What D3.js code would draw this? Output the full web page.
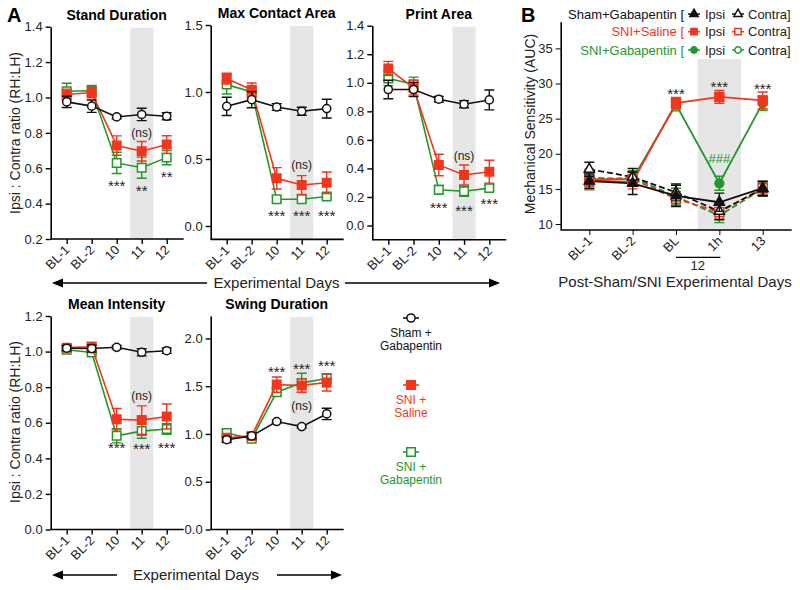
<!DOCTYPE html>
<html><head><meta charset="utf-8">
<script src="https://cdn.jsdelivr.net/npm/d3@7"></script>
<style>
body{margin:0;background:#fff;}
svg{font-family:"Liberation Sans",Arial,sans-serif;}
</style></head><body><div id="chart"></div>
<script>
const daysA = ["BL-1", "BL-2", "10", "11", "12"];
const daysB = ["BL-1", "BL-2", "BL", "1h", "13"];

// Stand Duration
const standSham = [0.975, 0.951, 0.89, 0.904, 0.894], standShamSE = [0.032, 0.035, 0.01, 0.035, 0.02];
const standSaline = [1.017, 1.028, 0.728, 0.696, 0.734], standSalineSE = [0.03, 0.03, 0.055, 0.055, 0.05];
const standGaba = [1.035, 1.038, 0.63, 0.603, 0.66], standGabaSE = [0.045, 0.03, 0.06, 0.06, 0.04];
// Max Contact Area
const maxSham = [0.893, 0.943, 0.888, 0.856, 0.876], maxShamSE = [0.068, 0.06, 0.025, 0.03, 0.07];
const maxSaline = [1.1, 1.017, 0.356, 0.306, 0.323], maxSalineSE = [0.04, 0.05, 0.08, 0.07, 0.08];
const maxGaba = [1.055, 1.0, 0.2, 0.2, 0.22], maxGabaSE = [0.07, 0.04, 0.02, 0.02, 0.02];
// Print Area
const printSham = [0.953, 0.953, 0.885, 0.85, 0.88], printShamSE = [0.065, 0.05, 0.02, 0.025, 0.07];
const printSaline = [1.1, 0.965, 0.424, 0.354, 0.377], printSalineSE = [0.05, 0.05, 0.075, 0.07, 0.08];
const printGaba = [1.03, 0.99, 0.25, 0.24, 0.262], printGabaSE = [0.05, 0.05, 0.03, 0.035, 0.02];
// Mean Intensity
const meanSham = [1.019, 1.017, 1.024, 0.996, 1.005], meanShamSE = [0.015, 0.02, 0.01, 0.02, 0.015];
const meanSaline = [1.022, 1.027, 0.62, 0.615, 0.635], meanSalineSE = [0.01, 0.025, 0.06, 0.08, 0.07];
const meanGaba = [1.01, 0.995, 0.527, 0.553, 0.565], meanGabaSE = [0.01, 0.01, 0.04, 0.04, 0.03];
// Swing Duration
const swingSham = [0.94, 0.98, 1.13, 1.077, 1.21], swingShamSE = [0.03, 0.03, 0.015, 0.015, 0.06];
const swingSaline = [0.96, 0.98, 1.517, 1.507, 1.54], swingSalineSE = [0.03, 0.03, 0.08, 0.07, 0.09];
const swingGaba = [1.01, 0.95, 1.437, 1.535, 1.58], swingGabaSE = [0.04, 0.03, 0.04, 0.1, 0.05];

// significance labels: [day, text, y value]
const standMarks = [["10", "***", 0.524], ["11", "**", 0.496], ["12", "**", 0.573], ["11", "(ns)", 0.80]];
const maxMarks = [["10", "***", 0.107], ["11", "***", 0.107], ["12", "***", 0.107], ["11", "(ns)", 0.455]];
const printMarks = [["10", "***", 0.154], ["11", "***", 0.135], ["12", "***", 0.18], ["11", "(ns)", 0.49]];
const meanMarks = [["10", "***", 0.484], ["11", "***", 0.474], ["12", "***", 0.485], ["11", "(ns)", 0.75]];
const swingMarks = [["10", "***", 1.69], ["11", "***", 1.72], ["12", "***", 1.757], ["11", "(ns)", 1.293]];

// Panel B (AUC)
const shamIpsi = [16.1, 15.8, 14.0, 13.1, 15.1], shamIpsiSE = [1.0, 1.6, 1.5, 1.3, 1.0];
const shamContra = [17.8, 16.7, 14.5, 11.8, 15.0], shamContraSE = [1.0, 1.2, 1.2, 1.2, 1.0];
const salineIpsi = [16.2, 16.0, 27.2, 28.1, 27.6], salineIpsiSE = [1.3, 1.0, 0.8, 0.9, 1.2];
const salineContra = [16.6, 16.4, 13.6, 11.7, 15.1], salineContraSE = [1.2, 1.0, 1.0, 1.0, 1.0];
const gabaIpsi = [16.4, 16.4, 27.0, 15.8, 27.2], gabaIpsiSE = [1.0, 1.0, 0.9, 1.0, 1.0];
const gabaContra = [16.2, 16.6, 13.9, 11.2, 15.0], gabaContraSE = [1.3, 1.0, 1.2, 1.0, 1.0];
const bMarks = [["BL", "***", 29.17], ["1h", "***", 30.1], ["13", "***", 29.9]];
const bHash = [["1h", "###", 19.35]];

const RED = "#f2361d", GREEN = "#23982a", BLACK = "#111";

const svg = d3.select("#chart").append("svg")
    .attr("width", 800).attr("height", 590);

function arrow(x1, x2, y) {
    const dir = x2 > x1 ? 1 : -1;
    svg.append("line").attr("x1", x1).attr("x2", x2 - dir * 8).attr("y1", y).attr("y2", y)
        .attr("stroke", "#000").attr("stroke-width", 1.6);
    svg.append("path")
        .attr("d", `M${x2},${y} L${x2 - dir * 11},${y - 4.5} L${x2 - dir * 11},${y + 4.5} Z`)
        .attr("fill", "#000");
}

function drawMarker(g, shape, cx, cy, color, filled, size) {
    const type = shape === "square" ? d3.symbolSquare : shape === "circle" ? d3.symbolCircle : d3.symbolTriangle;
    g.append("path")
        .attr("d", d3.symbol().type(type).size(size)())
        .attr("transform", `translate(${cx},${cy})`)
        .attr("fill", filled ? color : "#fff")
        .attr("stroke", color).attr("stroke-width", 1.5);
}

function panelA(p) {
    const g = svg.append("g");
    const x = d3.scalePoint().domain(daysA).range([p.x0, p.x1]);
    const y = d3.scaleLinear().domain(p.domain).range([p.bottom, p.top]);

    // shaded day 11
    g.append("rect")
        .attr("x", x("11") - 11.5).attr("width", 23)
        .attr("y", p.top + 1).attr("height", p.bottom - p.top - 1)
        .attr("fill", "#e6e6e6");

    g.append("text").attr("x", (p.x0 + p.x1) / 2).attr("y", p.top - 7)
        .attr("text-anchor", "middle").attr("font-size", 14).attr("font-weight", "bold")
        .text(p.title);

    const ya = g.append("g").attr("transform", `translate(${p.ax},0)`)
        .call(d3.axisLeft(y).tickValues(p.ticks).tickFormat(d3.format(".1f")).tickSize(5).tickSizeOuter(0));
    ya.select(".domain").attr("stroke-width", 1.6);
    ya.selectAll(".tick line").attr("stroke-width", 1.4);
    ya.selectAll("text").attr("font-size", 13).attr("fill", "#222").attr("font-family", null);

    const xa = g.append("g").attr("transform", `translate(0,${p.bottom})`)
        .call(d3.axisBottom(x).tickSize(5).tickSizeOuter(0));
    xa.select(".domain").remove();
    xa.selectAll(".tick line").attr("stroke-width", 1.4);
    xa.selectAll("text").attr("font-size", 13).attr("fill", "#222").attr("font-family", null)
        .attr("x", -6).attr("y", 6).attr("dy", "0.35em")
        .attr("transform", "rotate(-45)").style("text-anchor", "end");
    g.append("line").attr("x1", p.ax).attr("x2", p.x1 + 17)
        .attr("y1", p.bottom).attr("y2", p.bottom)
        .attr("stroke", "#000").attr("stroke-width", 1.6);

    const series = [
        { v: p.gaba, e: p.gabaSE, color: GREEN, shape: "square", filled: false },
        { v: p.saline, e: p.salineSE, color: RED, shape: "square", filled: true },
        { v: p.sham, e: p.shamSE, color: BLACK, shape: "circle", filled: false }
    ];
    series.forEach(s => {
        const pts = daysA.map((d, i) => [x(d), y(s.v[i])]);
        g.append("path").attr("d", d3.line()(pts))
            .attr("fill", "none").attr("stroke", s.color).attr("stroke-width", 1.6);
        daysA.forEach((d, i) => {
            const cx = x(d), lo = y(s.v[i] - s.e[i]), hi = y(s.v[i] + s.e[i]);
            g.append("path")
                .attr("d", `M${cx},${lo}V${hi}M${cx - 5},${lo}H${cx + 5}M${cx - 5},${hi}H${cx + 5}`)
                .attr("stroke", s.color).attr("stroke-width", 1.4).attr("fill", "none");
            drawMarker(g, s.shape, cx, y(s.v[i]), s.color, s.filled, s.shape === "square" ? 72 : 52);
        });
    });

    p.marks.forEach(([d, t, v]) => {
        const isStar = t.startsWith("*");
        g.append("text").attr("x", x(d)).attr("y", y(v))
            .attr("dy", isStar ? "0.62em" : "0.35em")
            .attr("text-anchor", "middle")
            .attr("font-size", isStar ? 15 : 12)
            .attr("fill", "#222")
            .text(t);
    });
}

// panel letters
svg.append("text").attr("x", 7).attr("y", 22).attr("font-size", 20).attr("font-weight", "bold").text("A");
svg.append("text").attr("x", 521).attr("y", 22).attr("font-size", 20).attr("font-weight", "bold").text("B");

panelA({ title: "Stand Duration", ax: 50.7, x0: 66.7, x1: 166.7, top: 26.7, bottom: 239, domain: [0.2, 1.4],
    ticks: [0.2, 0.4, 0.6, 0.8, 1.0, 1.2, 1.4],
    sham: standSham, shamSE: standShamSE, saline: standSaline, salineSE: standSalineSE, gaba: standGaba, gabaSE: standGabaSE,
    marks: standMarks });
panelA({ title: "Max Contact Area", ax: 210.7, x0: 226.7, x1: 326.7, top: 25, bottom: 239.4, domain: [-0.1, 1.5],
    ticks: [0.0, 0.5, 1.0, 1.5],
    sham: maxSham, shamSE: maxShamSE, saline: maxSaline, salineSE: maxSalineSE, gaba: maxGaba, gabaSE: maxGabaSE,
    marks: maxMarks });
panelA({ title: "Print Area", ax: 372.3, x0: 388.3, x1: 489.3, top: 25.7, bottom: 239.8, domain: [-0.1, 1.4],
    ticks: [0.0, 0.2, 0.4, 0.6, 0.8, 1.0, 1.2, 1.4],
    sham: printSham, shamSE: printShamSE, saline: printSaline, salineSE: printSalineSE, gaba: printGaba, gabaSE: printGabaSE,
    marks: printMarks });
panelA({ title: "Mean Intensity", ax: 50.7, x0: 66.7, x1: 166.7, top: 316, bottom: 529.5, domain: [0, 1.2],
    ticks: [0.0, 0.2, 0.4, 0.6, 0.8, 1.0, 1.2],
    sham: meanSham, shamSE: meanShamSE, saline: meanSaline, salineSE: meanSalineSE, gaba: meanGaba, gabaSE: meanGabaSE,
    marks: meanMarks });
panelA({ title: "Swing Duration", ax: 210.7, x0: 226.7, x1: 326.7, top: 316, bottom: 529.5, domain: [0, 2.235],
    ticks: [0.0, 0.5, 1.0, 1.5, 2.0],
    sham: swingSham, shamSE: swingShamSE, saline: swingSaline, salineSE: swingSalineSE, gaba: swingGaba, gabaSE: swingGabaSE,
    marks: swingMarks });

// y titles
[[133, "Ipsi : Contra ratio (RH:LH)"], [422, "Ipsi : Contra ratio (RH:LH)"]].forEach(([cy, t]) => {
    svg.append("text").attr("transform", `translate(15,${cy}) rotate(-90)`)
        .attr("text-anchor", "middle").attr("dy", "0.35em").attr("font-size", 14).attr("fill", "#222").text(t);
});

// experimental days arrows
arrow(207, 52, 283);
arrow(345, 500, 283);
svg.append("text").attr("x", 276.5).attr("y", 283).attr("dy", "0.35em").attr("text-anchor", "middle")
    .attr("font-size", 15).attr("fill", "#222").text("Experimental Days");
arrow(117, 52, 575);
arrow(277, 342, 575);
svg.append("text").attr("x", 196).attr("y", 575).attr("dy", "0.35em").attr("text-anchor", "middle")
    .attr("font-size", 15).attr("fill", "#222").text("Experimental Days");

// legend for A
const legA = [
    { y: 318, color: BLACK, shape: "circle", filled: false, lines: ["Sham +", "Gabapentin"] },
    { y: 385, color: RED, shape: "square", filled: true, lines: ["SNI +", "Saline"] },
    { y: 452, color: GREEN, shape: "square", filled: false, lines: ["SNI +", "Gabapentin"] }
];
legA.forEach(l => {
    svg.append("line").attr("x1", 403).attr("x2", 419).attr("y1", l.y).attr("y2", l.y)
        .attr("stroke", l.color).attr("stroke-width", 1.6);
    drawMarker(svg, l.shape, 411, l.y, l.color, l.filled, l.shape === "square" ? 72 : 52);
    l.lines.forEach((t, i) => {
        svg.append("text").attr("x", 411).attr("y", l.y + 14.5 + i * 13.5).attr("dy", "0.35em")
            .attr("text-anchor", "middle").attr("font-size", 12).attr("fill", l.color).text(t);
    });
});

// Panel B
const gB = svg.append("g");
const xB = d3.scalePoint().domain(daysB).range([589.3, 762.7]);
const yB = d3.scaleLinear().domain([9.15, 38.8]).range([230, 21.7]);

gB.append("rect").attr("x", xB("1h") - 21.7).attr("width", 43.4)
    .attr("y", 59).attr("height", 230 - 59).attr("fill", "#e6e6e6");

const yaB = gB.append("g").attr("transform", "translate(560.7,0)")
    .call(d3.axisLeft(yB).tickValues([10, 15, 20, 25, 30, 35]).tickSize(5).tickSizeOuter(0));
yaB.select(".domain").attr("stroke-width", 1.6);
yaB.selectAll("text").attr("font-size", 13).attr("fill", "#222").attr("font-family", null);

const xaB = gB.append("g").attr("transform", "translate(0,230)")
    .call(d3.axisBottom(xB).tickSize(5).tickSizeOuter(0));
xaB.select(".domain").remove();
xaB.selectAll("text").attr("font-size", 13).attr("fill", "#222").attr("font-family", null)
    .attr("x", -6).attr("y", 6).attr("dy", "0.35em")
    .attr("transform", "rotate(-45)").style("text-anchor", "end");
gB.append("line").attr("x1", 560.7).attr("x2", 791.7).attr("y1", 230).attr("y2", 230)
    .attr("stroke", "#000").attr("stroke-width", 1.6);

gB.append("line").attr("x1", xB("BL")).attr("x2", xB("1h") + 1).attr("y1", 257.3).attr("y2", 257.3)
    .attr("stroke", "#000").attr("stroke-width", 1.3);
gB.append("text").attr("x", (xB("BL") + xB("1h")) / 2).attr("y", 265.5).attr("dy", "0.35em")
    .attr("text-anchor", "middle").attr("font-size", 13).attr("fill", "#222").text("12");
gB.append("text").attr("x", 675).attr("y", 281.5).attr("dy", "0.35em")
    .attr("text-anchor", "middle").attr("font-size", 15).attr("fill", "#222").text("Post-Sham/SNI Experimental Days");
gB.append("text").attr("transform", "translate(530,124) rotate(-90)")
    .attr("text-anchor", "middle").attr("dy", "0.35em").attr("font-size", 14).attr("fill", "#222")
    .text("Mechanical Sensitivity (AUC)");

const seriesB = [
    { v: gabaContra, e: gabaContraSE, color: GREEN, shape: "circle", filled: false, dash: true },
    { v: gabaIpsi, e: gabaIpsiSE, color: GREEN, shape: "circle", filled: true, dash: false },
    { v: salineContra, e: salineContraSE, color: RED, shape: "square", filled: false, dash: true },
    { v: salineIpsi, e: salineIpsiSE, color: RED, shape: "square", filled: true, dash: false },
    { v: shamContra, e: shamContraSE, color: BLACK, shape: "triangle", filled: false, dash: true },
    { v: shamIpsi, e: shamIpsiSE, color: BLACK, shape: "triangle", filled: true, dash: false }
];
seriesB.forEach(s => {
    const pts = daysB.map((d, i) => [xB(d), yB(s.v[i])]);
    gB.append("path").attr("d", d3.line()(pts))
        .attr("fill", "none").attr("stroke", s.color).attr("stroke-width", 1.8)
        .attr("stroke-dasharray", s.dash ? "6,3" : null);
});
seriesB.forEach(s => {
    daysB.forEach((d, i) => {
        const cx = xB(d), lo = yB(s.v[i] - s.e[i]), hi = yB(s.v[i] + s.e[i]);
        gB.append("path")
            .attr("d", `M${cx},${lo}V${hi}M${cx - 5},${lo}H${cx + 5}M${cx - 5},${hi}H${cx + 5}`)
            .attr("stroke", s.color).attr("stroke-width", 1.4).attr("fill", "none");
        drawMarker(gB, s.shape, cx, yB(s.v[i]), s.color, s.filled,
            s.shape === "square" ? 80 : s.shape === "circle" ? 60 : 45);
    });
});
bMarks.forEach(([d, t, v]) => {
    gB.append("text").attr("x", xB(d)).attr("y", yB(v)).attr("dy", "0.62em")
        .attr("text-anchor", "middle").attr("font-size", 15).attr("fill", "#222").text(t);
});
bHash.forEach(([d, t, v]) => {
    gB.append("text").attr("x", xB(d)).attr("y", yB(v)).attr("dy", "0.35em")
        .attr("text-anchor", "middle").attr("font-size", 13).attr("fill", GREEN).text(t);
});

// legend for B
const legB = [
    { y: 14, name: "Sham+Gabapentin [", color: BLACK, shape: "triangle" },
    { y: 31.7, name: "SNI+Saline [", color: RED, shape: "square" },
    { y: 50, name: "SNI+Gabapentin [", color: GREEN, shape: "circle" }
];
legB.forEach(l => {
    const sz = l.shape === "square" ? 40 : l.shape === "circle" ? 32 : 30;
    gB.append("text").attr("x", 684).attr("y", l.y).attr("dy", "0.35em").attr("text-anchor", "end")
        .attr("font-size", 13).attr("fill", l.color).text(l.name);
    [[694, true], [738, false]].forEach(([mx, filled]) => {
        gB.append("line").attr("x1", mx - 6).attr("x2", mx + 6).attr("y1", l.y).attr("y2", l.y)
            .attr("stroke", l.color).attr("stroke-width", 1.5);
        drawMarker(gB, l.shape, mx, l.y, l.color, filled, sz);
    });
    gB.append("text").attr("x", 705).attr("y", l.y).attr("dy", "0.35em")
        .attr("font-size", 13).attr("fill", "#222").text("Ipsi");
    gB.append("text").attr("x", 748).attr("y", l.y).attr("dy", "0.35em")
        .attr("font-size", 13).attr("fill", "#222").text("Contra]");
});
</script></body></html>
